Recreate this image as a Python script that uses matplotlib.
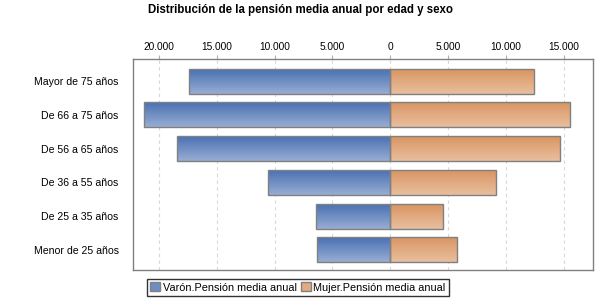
import numpy as np
import matplotlib
matplotlib.use("Agg")
import matplotlib.pyplot as plt
from matplotlib.patches import Patch
from matplotlib.ticker import FuncFormatter
from matplotlib.colors import LinearSegmentedColormap

categories = ["Mayor de 75 años", "De 66 a 75 años", "De 56 a 65 años",
              "De 36 a 55 años", "De 25 a 35 años", "Menor de 25 años"]
varon = [17370, 21340, 18490, 10540, 6390, 6310]
mujer = [12440, 15550, 14690, 9160, 4580, 5790]
series_names = ["Varón.Pensión media anual", "Mujer.Pensión media anual"]
ticks = [-20000, -15000, -10000, -5000, 0, 5000, 10000, 15000]

plt.rcParams['font.family'] = ['Liberation Sans', 'DejaVu Sans']

fig = plt.figure(figsize=(6, 3), dpi=100)
ax = fig.add_axes([132.5/600, 1-270/300, 460/600, 211/300])

y = np.arange(len(categories))
h = 0.74
bars_v = ax.barh(y, [-v for v in varon], height=h, color='none', edgecolor='#808080', linewidth=1, zorder=3)
bars_m = ax.barh(y, mujer, height=h, color='none', edgecolor='#808080', linewidth=1, zorder=3)

blue = LinearSegmentedColormap.from_list('b', ['#4a71b4', '#98add3'])
orange = LinearSegmentedColormap.from_list('o', ['#d99562', '#e9bf9f'])
grad = np.linspace(0, 1, 64).reshape(-1, 1)
for bars, cmap in ((bars_v, blue), (bars_m, orange)):
    for b in bars:
        x0, y0 = b.get_x(), b.get_y()
        w, hh = b.get_width(), b.get_height()
        im = ax.imshow(grad, cmap=cmap, aspect='auto',
                       extent=(x0, x0 + w, y0 + hh, y0), zorder=2,
                       interpolation='bilinear')
        im.set_clip_path(b)

ax.set_xlim(-22300, 17500)
ax.set_ylim(5.6, -0.66)
ax.set_xticks(ticks)
ax.xaxis.set_major_formatter(FuncFormatter(lambda v, p: f"{abs(int(v)):,}".replace(",", ".")))
ax.xaxis.tick_top()
ax.tick_params(axis='x', direction='out', length=3, color='#b0b0b0', labelsize=7.3, pad=2)
ax.set_yticks(y)
ax.set_yticklabels(categories, fontsize=7.6)
ax.tick_params(axis='y', length=0, pad=10)
ax.grid(axis='x', color='#d8d8d8', linestyle=(0, (3, 3)), linewidth=0.8, zorder=0)
for s in ax.spines.values():
    s.set_color('#808080')
    s.set_linewidth(1)

fig.text(300/600, 1-10/300, "Distribución de la pensión media anual por edad y sexo",
         fontsize=8.3, fontweight='bold', ha='center', va='center')

handles = [Patch(facecolor='#6f8dc4', edgecolor='#808080', label=series_names[0]),
           Patch(facecolor='#e3aa82', edgecolor='#808080', label=series_names[1])]
leg = fig.legend(handles=handles, loc='center', bbox_to_anchor=(298/600, 1-287.5/300),
                 ncol=2, fontsize=7.8, frameon=True, fancybox=False,
                 handlelength=0.9, handleheight=0.9, handletextpad=0.25,
                 columnspacing=0.37, borderpad=0.3, borderaxespad=0)
leg.get_frame().set_edgecolor('black')
leg.get_frame().set_linewidth(1)

fig.savefig("out.png", dpi=100)
